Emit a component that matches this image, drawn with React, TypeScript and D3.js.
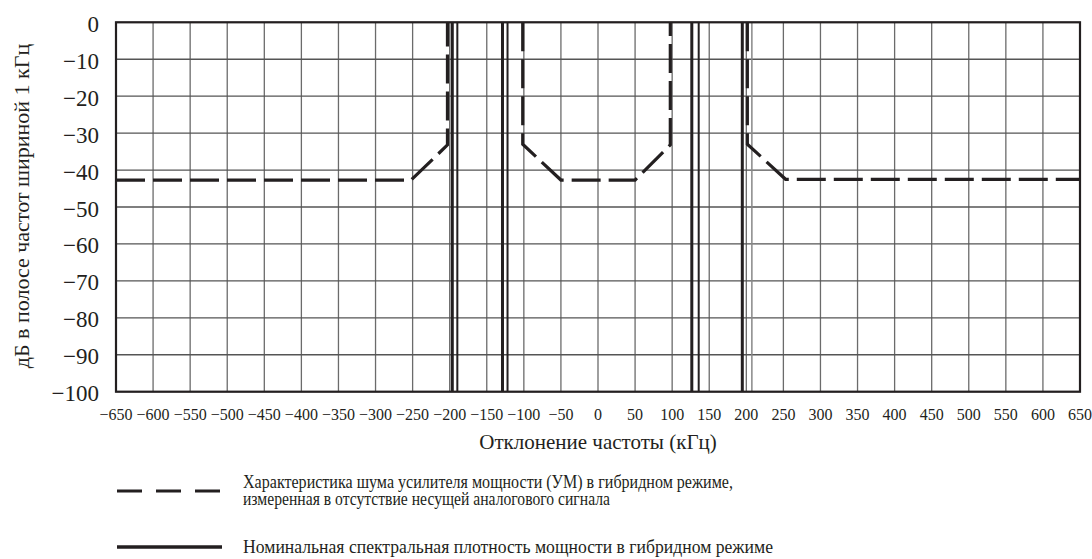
import React from "react";
import * as d3 from "d3";

// ---- data ----
const xTicks = [-650, -600, -550, -500, -450, -400, -350, -300, -250, -200, -150, -100, -50, 0, 50, 100, 150, 200, 250, 300, 350, 400, 450, 500, 550, 600, 650];
const yTicks = [0, -10, -20, -30, -40, -50, -60, -70, -80, -90, -100];

// PA noise characteristic (dashed), three segments
const noiseLeftX = [-650, -252, -203, -203];
const noiseLeftY = [-42.7, -42.7, -33.2, 0];
const noiseMidX = [-101.5, -101.5, -50, 50, 97.5, 97.5];
const noiseMidY = [0, -33, -42.7, -42.7, -33.2, 0];
const noiseRightX = [201.4, 201.4, 253, 650];
const noiseRightY = [0, -33, -42.5, -42.5];

// Nominal PSD (solid) edges
const psdMainX = [-196.5, -128.8, 126.5, 194.6];
const psdSecondX = [-189.7, -122.0, 135.8, 207.5];

const yTitle = "дБ в полосе частот шириной 1 кГц";
const xTitle = "Отклонение частоты (кГц)";
const legendDashed = [
  "Характеристика шума усилителя мощности (УМ) в гибридном режиме,",
  "измеренная в отсутствие несущей аналогового сигнала",
];
const legendSolid = "Номинальная спектральная плотность мощности в гибридном режиме";

const W = 1092;
const H = 559;
const L = 116, R = 1080, T = 22.3, B = 391.7;
const INK = "#231f20";

const fmt = (v: number) => (v < 0 ? "\u2212" + Math.abs(v) : String(v));

export default function App() {
  const x = d3.scaleLinear().domain([-650, 650]).range([L, R]);
  const y = d3.scaleLinear().domain([-100, 0]).range([B, T]);
  const line = d3
    .line<[number, number]>()
    .x((d) => x(d[0]))
    .y((d) => y(d[1]));
  const seg = (xs: number[], ys: number[]) =>
    line(xs.map((v, i) => [v, ys[i]] as [number, number])) || "";
  const fam = "Liberation Serif";
  const tStyle = { fontFamily: `"${fam}"` };

  return (
    <svg width={W} height={H} style={{ position: "absolute", left: 0, top: 0, background: "#fff" }}>
      {/* grid */}
      {xTicks.map((t) => (
        <line key={"gx" + t} x1={x(t)} x2={x(t)} y1={T} y2={B} stroke="#6b6b6b" strokeWidth={1.3} />
      ))}
      {yTicks.map((t) => (
        <line key={"gy" + t} x1={L} x2={R} y1={y(t)} y2={y(t)} stroke="#555" strokeWidth={1.3} />
      ))}

      {/* nominal PSD solid lines */}
      {psdMainX.map((v, i) => (
        <line key={"pm" + i} x1={x(v)} x2={x(v)} y1={T} y2={B} stroke={INK} strokeWidth={3} />
      ))}
      {psdSecondX.map((v, i) => (
        <line
          key={"ps" + i}
          x1={x(v)}
          x2={x(v)}
          y1={T}
          y2={B}
          stroke={i === 3 ? "#888" : INK}
          strokeWidth={i === 3 ? 1.5 : 2}
        />
      ))}

      {/* PA noise dashed */}
      {[
        seg(noiseLeftX, noiseLeftY),
        seg(noiseMidX, noiseMidY),
        seg(noiseRightX, noiseRightY),
      ].map((d, i) => (
        <path key={"n" + i} d={d} fill="none" stroke={INK} strokeWidth={3.2} strokeDasharray="29 8" />
      ))}

      {/* frame */}
      <rect x={L} y={T} width={R - L} height={B - T} fill="none" stroke={INK} strokeWidth={2.2} />

      <g fill={INK}>
        {/* y tick labels */}
        {yTicks.map((t) => (
          <text key={"yl" + t} x={99} y={y(t) + 9.5} textAnchor="end" fontSize={23} style={tStyle}>
            {fmt(t)}
          </text>
        ))}
        {/* x tick labels */}
        {xTicks.map((t) => (
          <text key={"xl" + t} x={x(t)} y={419.5} textAnchor="middle" fontSize={16} style={tStyle}>
            {fmt(t)}
          </text>
        ))}

        {/* axis titles */}
        <text
          transform={`translate(29, 206) rotate(-90)`}
          textAnchor="middle"
          fontSize={22}
          style={tStyle}
        >
          {yTitle}
        </text>
        <text x={598} y={449} textAnchor="middle" fontSize={21} style={tStyle}>
          {xTitle}
        </text>

        {/* legend */}
        <text x={243} y={488} fontSize={18} textLength={490} lengthAdjust="spacingAndGlyphs" style={tStyle}>
          {legendDashed[0]}
        </text>
        <text x={243} y={505} fontSize={18} textLength={367} lengthAdjust="spacingAndGlyphs" style={tStyle}>
          {legendDashed[1]}
        </text>
        <text x={243} y={553} fontSize={18.5} textLength={530} lengthAdjust="spacingAndGlyphs" style={tStyle}>
          {legendSolid}
        </text>
      </g>
      <line x1={117} x2={221} y1={491} y2={491} stroke={INK} strokeWidth={3.2} strokeDasharray="25 14" />
      <line x1={117} x2={222} y1={547} y2={547} stroke={INK} strokeWidth={3.5} />
    </svg>
  );
}
